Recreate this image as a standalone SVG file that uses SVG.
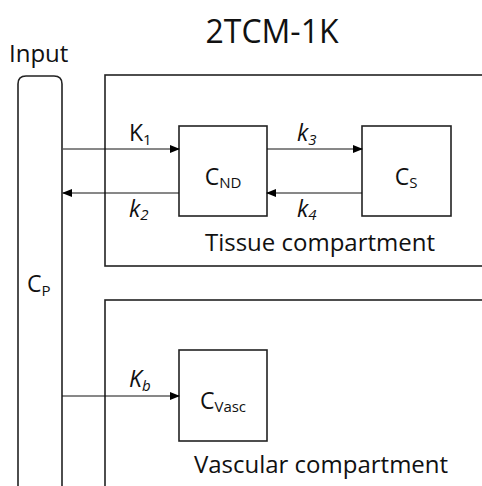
<svg xmlns="http://www.w3.org/2000/svg" width="482" height="486" viewBox="0 0 482 486">
<defs>
<marker id="ah" markerWidth="10" markerHeight="8" refX="9" refY="4" orient="auto" markerUnits="userSpaceOnUse">
<path d="M0,0 L10,4 L0,8 Z" fill="#000"/>
</marker>
<style>
text{font-family:"Open Sans","Noto Sans",sans-serif;fill:#111}
.box{fill:#fff;stroke:#222;stroke-width:1.6}
.cn{stroke:#111;stroke-width:1;fill:none;marker-end:url(#ah)}
.lbl{font-size:23px}
.it{font-style:italic}
.sub{font-size:15px}
</style>
</defs>
<rect width="482" height="486" fill="#fff"/>
<text x="272" y="43" font-size="32" text-anchor="middle">2TCM-1K</text>
<text x="9" y="62" font-size="24">Input</text>
<g id="tissue">
<rect class="box" x="105" y="75" width="390" height="191"/>
<text x="320" y="251" font-size="24" text-anchor="middle">Tissue compartment</text>
</g>
<g id="vascular">
<rect class="box" x="105" y="300" width="390" height="200"/>
<text x="321" y="473" font-size="24" text-anchor="middle">Vascular compartment</text>
</g>
<g id="input">
<path class="box" d="M18,500 V84 Q18,76 26,76 H54 Q62,76 62,84 V500"/>
<text x="27" y="292" class="lbl">C<tspan class="sub" dy="4">P</tspan></text>
</g>
<g id="cnd">
<rect class="box" x="179" y="126" width="88" height="90"/>
<text x="223" y="185" class="lbl" text-anchor="middle">C<tspan class="sub" dy="3">ND</tspan></text>
</g>
<g id="cs">
<rect class="box" x="362" y="126" width="89" height="90"/>
<text x="406" y="185" class="lbl" text-anchor="middle">C<tspan class="sub" dy="3">S</tspan></text>
</g>
<g id="cvasc">
<rect class="box" x="179" y="350" width="88" height="91"/>
<text x="223" y="409" class="lbl" text-anchor="middle">C<tspan class="sub" dy="3">Vasc</tspan></text>
</g>
<g id="connectors">
<line class="cn" x1="63" y1="149" x2="179" y2="149"/>
<line class="cn" x1="179" y1="193" x2="63" y2="193"/>
<line class="cn" x1="267" y1="149" x2="362" y2="149"/>
<line class="cn" x1="362" y1="193" x2="267" y2="193"/>
<line class="cn" x1="62" y1="396" x2="179" y2="396"/>
<text x="129" y="141" class="lbl">K<tspan class="sub" dy="4">1</tspan></text>
<text x="297" y="141" class="lbl it">k<tspan class="sub" dy="4">3</tspan></text>
<text x="129" y="217" class="lbl it">k<tspan class="sub" dy="3">2</tspan></text>
<text x="297" y="217" class="lbl it">k<tspan class="sub" dy="3">4</tspan></text>
<text x="129" y="387" class="lbl it">K<tspan class="sub" dy="4">b</tspan></text>
</g>
</svg>
